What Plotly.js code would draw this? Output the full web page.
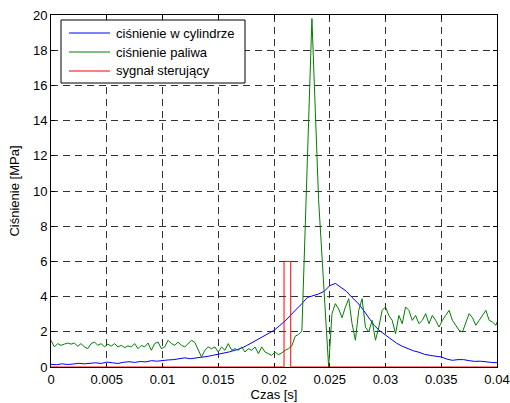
<!DOCTYPE html>
<html>
<head>
<meta charset="utf-8">
<script src="https://cdn.plot.ly/plotly-3.0.1.min.js"></script>
<style>
  html, body { margin: 0; padding: 0; background: #fff; }
  #chart { width: 510px; height: 403px; }
</style>
</head>
<body>
<div id="chart"></div>
<script>
// Cylinder pressure [MPa] vs time [s]
const cylTime = [
  0, 0.0005, 0.001, 0.0015, 0.002, 0.0025, 0.003, 0.0035, 0.004, 0.0045,
  0.005, 0.0055, 0.006, 0.0065, 0.007, 0.0075, 0.008, 0.0085, 0.009, 0.0095,
  0.01, 0.0105, 0.011, 0.0115, 0.012, 0.0125, 0.013, 0.0135, 0.014, 0.0145,
  0.015, 0.0155, 0.016, 0.0165, 0.017, 0.0175, 0.018, 0.0185, 0.019, 0.0195,
  0.02, 0.0205, 0.021, 0.0215, 0.022, 0.0225, 0.023, 0.0235, 0.024, 0.0245,
  0.025, 0.0255, 0.026, 0.0265, 0.027, 0.0275, 0.028, 0.0285, 0.029, 0.0295,
  0.03, 0.0305, 0.031, 0.0315, 0.032, 0.0325, 0.033, 0.0335, 0.034, 0.0345,
  0.035, 0.0355, 0.036, 0.0365, 0.037, 0.0375, 0.038, 0.0385, 0.039, 0.0395,
  0.04
];
const cylPressure = [
  0.15, 0.13, 0.18, 0.14, 0.17, 0.21, 0.18, 0.22, 0.24, 0.20,
  0.28, 0.24, 0.20, 0.27, 0.30, 0.26, 0.31, 0.29, 0.36, 0.33,
  0.38, 0.40, 0.42, 0.45, 0.52, 0.47, 0.50, 0.56, 0.60, 0.66,
  0.72, 0.78, 0.86, 0.95, 1.05, 1.20, 1.38, 1.52, 1.70, 1.88,
  2.08, 2.35, 2.62, 2.95, 3.25, 3.60, 3.95, 4.05, 4.15, 4.30,
  4.62, 4.75, 4.55, 4.30, 3.95, 3.65, 3.25, 2.80, 2.35, 2.05,
  1.80, 1.55, 1.35, 1.18, 1.05, 0.92, 0.84, 0.72, 0.66, 0.62,
  0.57, 0.45, 0.38, 0.42, 0.42, 0.36, 0.32, 0.33, 0.28, 0.26,
  0.24
];

// Fuel pressure [MPa] vs time [s]
const fuelTime = [
  0, 0.0003, 0.0006, 0.0009, 0.0012, 0.0015, 0.0018, 0.0021, 0.0024, 0.0027,
  0.003, 0.0033, 0.0036, 0.0039, 0.0042, 0.0045, 0.0048, 0.0051, 0.0054, 0.0057,
  0.006, 0.0063, 0.0066, 0.0069, 0.0072, 0.0075, 0.0078, 0.0081, 0.0084, 0.0087,
  0.009, 0.0093, 0.0096, 0.0099, 0.0102, 0.0105, 0.0108, 0.0111, 0.0114, 0.0117,
  0.012, 0.0123, 0.0126, 0.0129, 0.0132, 0.0135, 0.0138, 0.0141, 0.0144, 0.0147,
  0.015, 0.0153, 0.0156, 0.0159, 0.0162, 0.0165, 0.0168, 0.0171, 0.0174, 0.0177,
  0.018, 0.0183, 0.0186, 0.0189, 0.0192, 0.0195, 0.0198, 0.0201, 0.0204, 0.0207,
  0.021, 0.0213, 0.0216, 0.0219, 0.0222, 0.0225,
  0.0234, 0.024, 0.0249,
  0.0252, 0.0255, 0.0258, 0.0261, 0.0264, 0.0267, 0.027, 0.0273, 0.0276, 0.0279,
  0.0282, 0.0285, 0.0288, 0.0291, 0.0294, 0.0297, 0.03, 0.0303, 0.0306, 0.0309,
  0.0312, 0.0315, 0.0318, 0.0321, 0.0324, 0.0327, 0.033, 0.0333, 0.0336, 0.0339,
  0.0342, 0.0345, 0.0348, 0.0351, 0.0354, 0.0357, 0.036, 0.0363, 0.0366, 0.0369,
  0.0372, 0.0375, 0.0378, 0.0381, 0.0384, 0.0387, 0.039, 0.0393, 0.0396, 0.0399,
  0.04
];
const fuelPressure = [
  1.52, 1.14, 1.33, 1.23, 1.30, 1.36, 1.30, 1.36, 1.18, 1.33,
  1.14, 1.04, 1.33, 1.42, 1.23, 1.33, 1.14, 1.30, 1.18, 1.33,
  1.14, 1.23, 1.10, 1.20, 1.14, 1.33, 1.04, 1.23, 1.14, 1.36,
  0.95, 1.33, 1.42, 1.04, 1.14, 1.52, 1.33, 1.23, 1.42, 1.23,
  1.14, 1.33, 1.52, 1.40, 1.00, 0.57, 0.95, 1.14, 1.04, 1.14,
  0.85, 1.14, 0.95, 1.33, 0.95, 1.04, 0.95, 1.14, 0.85, 1.04,
  0.95, 1.14, 0.76, 1.14, 0.85, 0.76, 0.66, 0.85, 0.70, 0.80,
  0.95, 1.04, 1.20, 1.75, 1.85, 2.05,
  19.8, 9.5, 0.0,
  3.03, 3.60, 3.30, 2.80, 3.40, 3.88, 2.46, 1.52, 3.22, 3.88,
  2.27, 1.99, 2.65, 1.52, 2.27, 3.22, 3.41, 2.93, 2.65, 1.89,
  2.93, 2.46, 3.41, 3.22, 2.65, 2.93, 2.46, 2.65, 3.03, 2.46,
  2.93, 2.65, 2.27, 2.65, 2.93, 3.22, 2.65, 2.37, 2.08, 1.99,
  2.46, 3.03, 2.80, 2.37, 2.65, 2.93, 3.22, 2.65, 2.55, 2.37,
  2.55
];

// Injector control signal
const ctrlTime = [0, 0.0209, 0.0209, 0.0215, 0.0215, 0.04];
const ctrlLevel = [0, 0, 6, 6, 0, 0];

// Axis ticks
const xTickVals = [0, 0.005, 0.01, 0.015, 0.02, 0.025, 0.03, 0.035, 0.04];
const xTickText = ['0', '0.005', '0.01', '0.015', '0.02', '0.025', '0.03', '0.035', '0.04'];
const yTickVals = [0, 2, 4, 6, 8, 10, 12, 14, 16, 18, 20];

const seriesNames = ['ciśnienie w cylindrze', 'ciśnienie paliwa', 'sygnał sterujący'];
const seriesColors = ['#0000ff', '#008000', '#ff0000'];

const FONT = 'Liberation Sans, Arial, Helvetica, sans-serif';
const W = 510, H = 403;
const M = { l: 51, r: 13, t: 15, b: 36 };

const traces = [
  { x: cylTime, y: cylPressure, name: seriesNames[0], type: 'scatter', mode: 'lines',
    line: { color: seriesColors[0], width: 1 } },
  { x: fuelTime, y: fuelPressure, name: seriesNames[1], type: 'scatter', mode: 'lines',
    line: { color: seriesColors[1], width: 1 } },
  { x: ctrlTime, y: ctrlLevel, name: seriesNames[2], type: 'scatter', mode: 'lines',
    line: { color: seriesColors[2], width: 1 } }
];

// MATLAB-style boxed legend, built from shapes and annotations in paper space
const plotW = W - M.l - M.r, plotH = H - M.t - M.b;
const px2x = p => (p - M.l) / plotW;
const px2y = p => (H - M.b - p) / plotH;
const legendBox = { left: 61, right: 245, top: 20, bottom: 83 };
const legendRows = [33, 52, 71];
const shapes = [{
  type: 'rect', xref: 'paper', yref: 'paper', layer: 'above',
  x0: px2x(legendBox.left), x1: px2x(legendBox.right),
  y0: px2y(legendBox.bottom), y1: px2y(legendBox.top),
  fillcolor: '#fff', line: { color: '#000', width: 1 }
}];
const annotations = [];
seriesNames.forEach((name, i) => {
  shapes.push({
    type: 'line', xref: 'paper', yref: 'paper', layer: 'above',
    x0: px2x(69), x1: px2x(110), y0: px2y(legendRows[i]), y1: px2y(legendRows[i]),
    line: { color: seriesColors[i], width: 1 }
  });
  annotations.push({
    xref: 'paper', yref: 'paper', x: px2x(114), y: px2y(legendRows[i]),
    xanchor: 'left', yanchor: 'middle', showarrow: false, text: name,
    font: { family: FONT, size: 13, color: '#000' }
  });
});

const axisCommon = {
  showline: true, linecolor: '#000', linewidth: 1, mirror: 'ticks',
  ticks: 'inside', ticklen: 4, tickcolor: '#000', tickwidth: 1,
  showgrid: true, gridcolor: '#333', gridwidth: 1, griddash: '7px,5px',
  zeroline: false, layer: 'below traces',
  tickfont: { family: FONT, size: 13, color: '#000' }
};

const layout = {
  width: W, height: H,
  margin: M,
  paper_bgcolor: '#fff', plot_bgcolor: '#fff',
  font: { family: FONT, size: 13, color: '#000' },
  showlegend: false,
  shapes: shapes,
  annotations: annotations,
  xaxis: Object.assign({}, axisCommon, {
    range: [0, 0.04], tickmode: 'array', tickvals: xTickVals, ticktext: xTickText,
    title: { text: 'Czas [s]', font: { family: FONT, size: 13, color: '#000' }, standoff: 4 }
  }),
  yaxis: Object.assign({}, axisCommon, {
    range: [0, 20], tickmode: 'array', tickvals: yTickVals,
    title: { text: 'Ciśnienie [MPa]', font: { family: FONT, size: 13, color: '#000' }, standoff: 10 }
  })
};

Plotly.newPlot('chart', traces, layout, { staticPlot: true, displayModeBar: false });
</script>
</body>
</html>
